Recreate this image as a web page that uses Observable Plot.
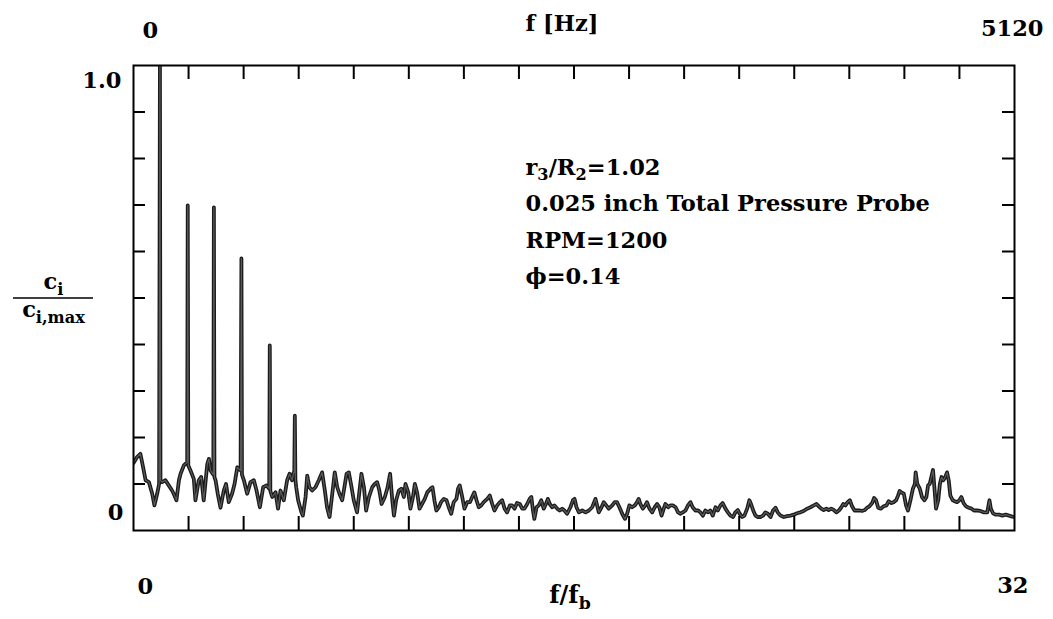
<!DOCTYPE html>
<html><head><meta charset="utf-8">
<script src="https://cdn.jsdelivr.net/npm/d3@7"></script>
<script src="https://cdn.jsdelivr.net/npm/@observablehq/plot@0.6"></script>
<style>body{margin:0;background:#fff}#chart{width:1053px;height:619px}</style>
</head><body><div id="chart"></div>
<script>
// f/f_b (harmonic order of the blade-passing frequency) along the spectrum
const ratio = [
 0.00,0.13,0.25,0.35,0.44,0.56,0.68,0.76,0.86,0.93,0.96,0.98,1.04,1.16,1.28,1.40,1.46,1.56,1.65,1.71,1.83,1.95,1.97,1.99,
 2.07,2.19,2.25,2.37,2.46,2.55,2.68,2.74,2.80,2.90,2.92,2.94,2.98,3.06,3.16,3.28,3.36,3.46,3.58,3.67,3.77,3.89,3.92,3.94,
 4.01,4.13,4.25,4.37,4.47,4.59,4.71,4.83,4.93,4.95,4.97,5.04,5.16,5.25,5.34,5.46,5.58,5.67,5.76,5.82,5.84,5.86,5.88,
 5.91,5.98,6.10,6.15,6.25,6.31,6.39,6.49,6.61,6.73,6.85,6.95,7.03,7.12,7.22,7.31,7.40,7.48,7.58,7.66,7.74,7.82,7.92,
 8.00,8.12,8.21,8.28,8.37,8.45,8.55,8.67,8.76,8.85,8.93,9.01,9.13,9.23,9.32,9.40,9.46,9.54,9.64,9.73,9.82,9.88,9.98,
 10.06,10.15,10.22,10.30,10.39,10.48,10.58,10.67,10.79,10.86,10.93,11.00,11.09,11.17,11.27,11.37,11.45,11.54,11.63,
 11.73,11.79,11.85,11.94,12.02,12.12,12.22,12.30,12.38,12.46,12.54,12.63,12.72,12.85,12.94,13.03,13.11,13.21,13.31,
 13.39,13.48,13.57,13.67,13.75,13.84,13.93,14.03,14.12,14.20,14.30,14.39,14.45,14.51,14.56,14.64,14.72,14.81,14.90,
 14.98,15.05,15.12,15.21,15.29,15.39,15.48,15.57,15.65,15.75,15.87,15.96,16.02,16.09,16.18,16.30,16.42,16.54,16.66,
 16.78,16.84,16.90,17.00,17.08,17.17,17.26,17.39,17.48,17.56,17.65,17.75,17.85,17.93,18.01,18.11,18.21,18.29,18.35,
 18.41,18.50,18.59,18.65,18.74,18.84,18.93,19.02,19.10,19.18,19.26,19.32,19.42,19.50,19.59,19.69,19.78,19.87,19.95,
 20.05,20.14,20.23,20.31,20.41,20.51,20.59,20.68,20.77,20.87,20.95,21.04,21.14,21.22,21.32,21.40,21.50,21.59,21.68,
 21.78,21.86,21.95,22.02,22.11,22.19,22.29,22.37,22.43,22.51,22.59,22.68,22.77,22.87,22.95,23.04,23.14,23.23,23.32,
 23.40,23.50,23.62,23.74,23.86,23.98,24.10,24.22,24.34,24.47,24.59,24.71,24.81,24.89,24.98,25.07,25.17,25.25,25.34,
 25.44,25.53,25.62,25.70,25.78,25.86,25.94,26.02,26.10,26.19,26.28,26.38,26.46,26.56,26.65,26.73,26.83,26.90,26.97,
 27.05,27.14,27.25,27.35,27.43,27.53,27.61,27.70,27.77,27.83,27.89,27.98,28.06,28.13,28.22,28.31,28.38,28.41,28.47,
 28.56,28.64,28.73,28.80,28.86,28.92,28.98,29.04,29.09,29.15,29.23,29.29,29.35,29.41,29.47,29.55,29.61,29.67,29.76,
 29.83,29.91,30.00,30.07,30.15,30.24,30.34,30.44,30.53,30.64,30.76,30.89,31.01,31.09,31.14,31.22,31.31,31.44,31.56,
 31.68,31.80,31.92,32.00
];
// c_i / c_i,max
const amplitude = [
 .145,.158,.165,.136,.108,.104,.079,.054,.079,.100,1.00,.108,.104,.108,.097,.086,.079,.065,.108,.122,.140,.147,.699,.140,
 .129,.111,.065,.108,.115,.065,.143,.154,.129,.120,.695,.115,.108,.079,.049,.086,.100,.061,.079,.100,.136,.129,.585,.120,
 .108,.079,.104,.108,.086,.050,.093,.097,.090,.398,.085,.072,.082,.047,.086,.065,.108,.122,.108,.125,.125,.247,.110,
 .093,.065,.039,.032,.072,.118,.093,.086,.093,.108,.125,.086,.050,.029,.079,.125,.093,.079,.065,.093,.122,.125,.093,
 .065,.039,.086,.122,.093,.043,.072,.093,.100,.104,.086,.057,.072,.093,.122,.065,.032,.065,.086,.090,.072,.100,.082,
 .047,.072,.100,.082,.047,.057,.068,.082,.090,.093,.065,.043,.050,.061,.068,.065,.050,.036,.061,
 .068,.090,.097,.072,.047,.061,.061,.072,.082,.065,.050,.054,.061,.068,.075,.057,.043,.054,.061,
 .065,.047,.039,.054,.054,.047,.059,.057,.047,.047,.057,.068,.072,.043,.025,.050,.054,.065,.047,
 .057,.068,.057,.050,.054,.047,.043,.047,.043,.036,.050,.065,.068,.050,.039,.043,.039,.043,.050,
 .068,.054,.039,.050,.061,.054,.047,.054,.061,.061,.050,.036,.025,.036,.054,.050,.054,.061,.068,
 .057,.047,.054,.061,.047,.039,.050,.057,.050,.032,.047,.057,.050,.054,.054,.050,.039,.036,.039,
 .043,.054,.061,.050,.043,.043,.039,.032,.043,.039,.043,.032,.050,.043,.054,.059,.047,.039,.032,
 .029,.039,.044,.036,.029,.032,.047,.065,.057,.043,.032,.029,.029,.032,.039,.036,.029,.043,.049,
 .039,.032,.029,.031,.032,.034,.037,.039,.042,.047,.050,.054,.057,.052,.047,.044,.047,.044,.047,
 .044,.039,.043,.049,.057,.054,.061,.065,.052,.043,.043,.043,.042,.044,.049,.052,.059,.070,.065,
 .049,.047,.052,.054,.063,.059,.061,.065,.075,.085,.082,.079,.054,.043,.065,.090,.100,.125,.100,
 .090,.072,.065,.072,.097,.100,.115,.130,.093,.047,.065,.100,.115,.108,.113,.125,.108,.075,.065,
 .063,.061,.065,.072,.059,.052,.049,.047,.043,.043,.042,.039,.039,.065,.047,.037,.034,.034,.032,
 .034,.032,.030,.029
];
const xTicks = [2,4,6,8,10,12,14,16,18,20,22,24,26,28,30];
const yTicks = [0.1,0.2,0.3,0.4,0.5,0.6,0.7,0.8,0.9];
const xEnds = [0, 32];
const bottomLabels = ["0", "32"];
const topLabels = ["0", "5120"];
const yEnds = [0, 1];
const leftLabels = ["0", "1.0"];
const topTitle = "f [Hz]";
const bottomTitle = "f/f_b";
const yNumerator = "c_i";
const yDenominator = "c_{i,max}";
const notes = ["r_3/R_2=1.02", "0.025 inch Total Pressure Probe", "RPM=1200", "ϕ=0.14"];

const spectrum = ratio.map((f, i) => ({f, c: amplitude[i]}));

const W = 1053, H = 619, mL = 133, mR = 39, mT = 65, mB = 89;
const fw = W - mL - mR, fh = H - mT - mB;
const font = "DejaVu Serif";
const fsz = 22.5;
const T = {fontFamily: font, fontWeight: "bold", fontSize: fsz, lineAnchor: "bottom"};

const plot = Plot.plot({
  width: W, height: H,
  marginLeft: mL, marginRight: mR, marginTop: mT, marginBottom: mB,
  x: {domain: [0, 32], axis: null},
  y: {domain: [0, 1], axis: null},
  style: {background: "#fff", color: "#000"},
  marks: [
    Plot.line(spectrum, {x: "f", y: "c", stroke: "#1a1a1a", strokeWidth: 3.8, clip: true}),
    Plot.line(spectrum, {x: "f", y: "c", stroke: "#5a5a5a", strokeWidth: 1.2, clip: true}),
    Plot.frame({stroke: "#000", strokeWidth: 2}),
    Plot.tickX(xTicks, {x: d => d, insetTop: fh - 14, strokeWidth: 2}),
    Plot.tickX(xTicks, {x: d => d, insetBottom: fh - 14, strokeWidth: 2}),
    Plot.tickY(yTicks, {y: d => d, insetRight: fw - 12, strokeWidth: 2}),
    Plot.tickY(yTicks, {y: d => d, insetLeft: fw - 12, strokeWidth: 2}),
    // top axis labels
    Plot.text([xEnds[0]], {...T, x: d => d, text: () => topLabels[0], frameAnchor: "top", textAnchor: "start", dx: 9, dy: -28}),
    Plot.text([xEnds[1]], {...T, x: d => d, text: () => topLabels[1], frameAnchor: "top", textAnchor: "end", dx: 29, dy: -30}),
    Plot.text([topTitle], {...T, text: d => d, frameAnchor: "top", dx: -12, dy: -35}),
    // bottom axis labels
    Plot.text([xEnds[0]], {...T, x: d => d, text: () => bottomLabels[0], frameAnchor: "bottom", textAnchor: "start", dx: 4, dy: 63}),
    Plot.text([xEnds[1]], {...T, x: d => d, text: () => bottomLabels[1], frameAnchor: "bottom", textAnchor: "end", dx: 14, dy: 62}),
    Plot.text([bottomTitle], {...T, fontSize: 24, text: d => d, frameAnchor: "bottom", dx: -4, dy: 72}),
    // left axis labels
    Plot.text([yEnds[1]], {...T, y: d => d, text: () => leftLabels[1], frameAnchor: "left", textAnchor: "end", dx: -12, dy: 22}),
    Plot.text([yEnds[0]], {...T, y: d => d, text: () => leftLabels[0], frameAnchor: "left", textAnchor: "end", dx: -10, dy: -11}),
    // y title as a fraction
    Plot.text([yNumerator], {...T, y: 0.5, text: d => d, frameAnchor: "left", textAnchor: "middle", dx: -80, dy: -9}),
    Plot.tickY([0.5], {y: d => d, insetLeft: -120, insetRight: fw + 40, strokeWidth: 1.5}),
    Plot.text([yDenominator], {...T, y: 0.5, text: d => d, frameAnchor: "left", textAnchor: "middle", dx: -80, dy: 19}),
    // annotation block
    ...notes.map((n, i) => Plot.text([n], {...T, text: d => d, frameAnchor: "top-left", textAnchor: "start", dx: 392, dy: 109 + 36.5 * i}))
  ]
});
document.getElementById("chart").appendChild(plot);

// render "_x" / "_{...}" as subscripts
d3.select(plot).selectAll("text").each(function () {
  const s = this.textContent;
  if (!s.includes("_")) return;
  const fs = parseFloat(getComputedStyle(this).fontSize) || 20;
  const parts = s.split(/(_\{[^}]*\}|_.)/).filter(p => p);
  this.textContent = "";
  let shifted = false;
  for (const p of parts) {
    const t = document.createElementNS("http://www.w3.org/2000/svg", "tspan");
    if (p.startsWith("_")) {
      t.textContent = p.startsWith("_{") ? p.slice(2, -1) : p.slice(1);
      t.setAttribute("font-size", fs * 0.72);
      if (!shifted) t.setAttribute("dy", fs * 0.25);
      shifted = true;
    } else {
      t.textContent = p;
      if (shifted) t.setAttribute("dy", -fs * 0.25);
      shifted = false;
    }
    this.appendChild(t);
  }
});
</script>
</body></html>
